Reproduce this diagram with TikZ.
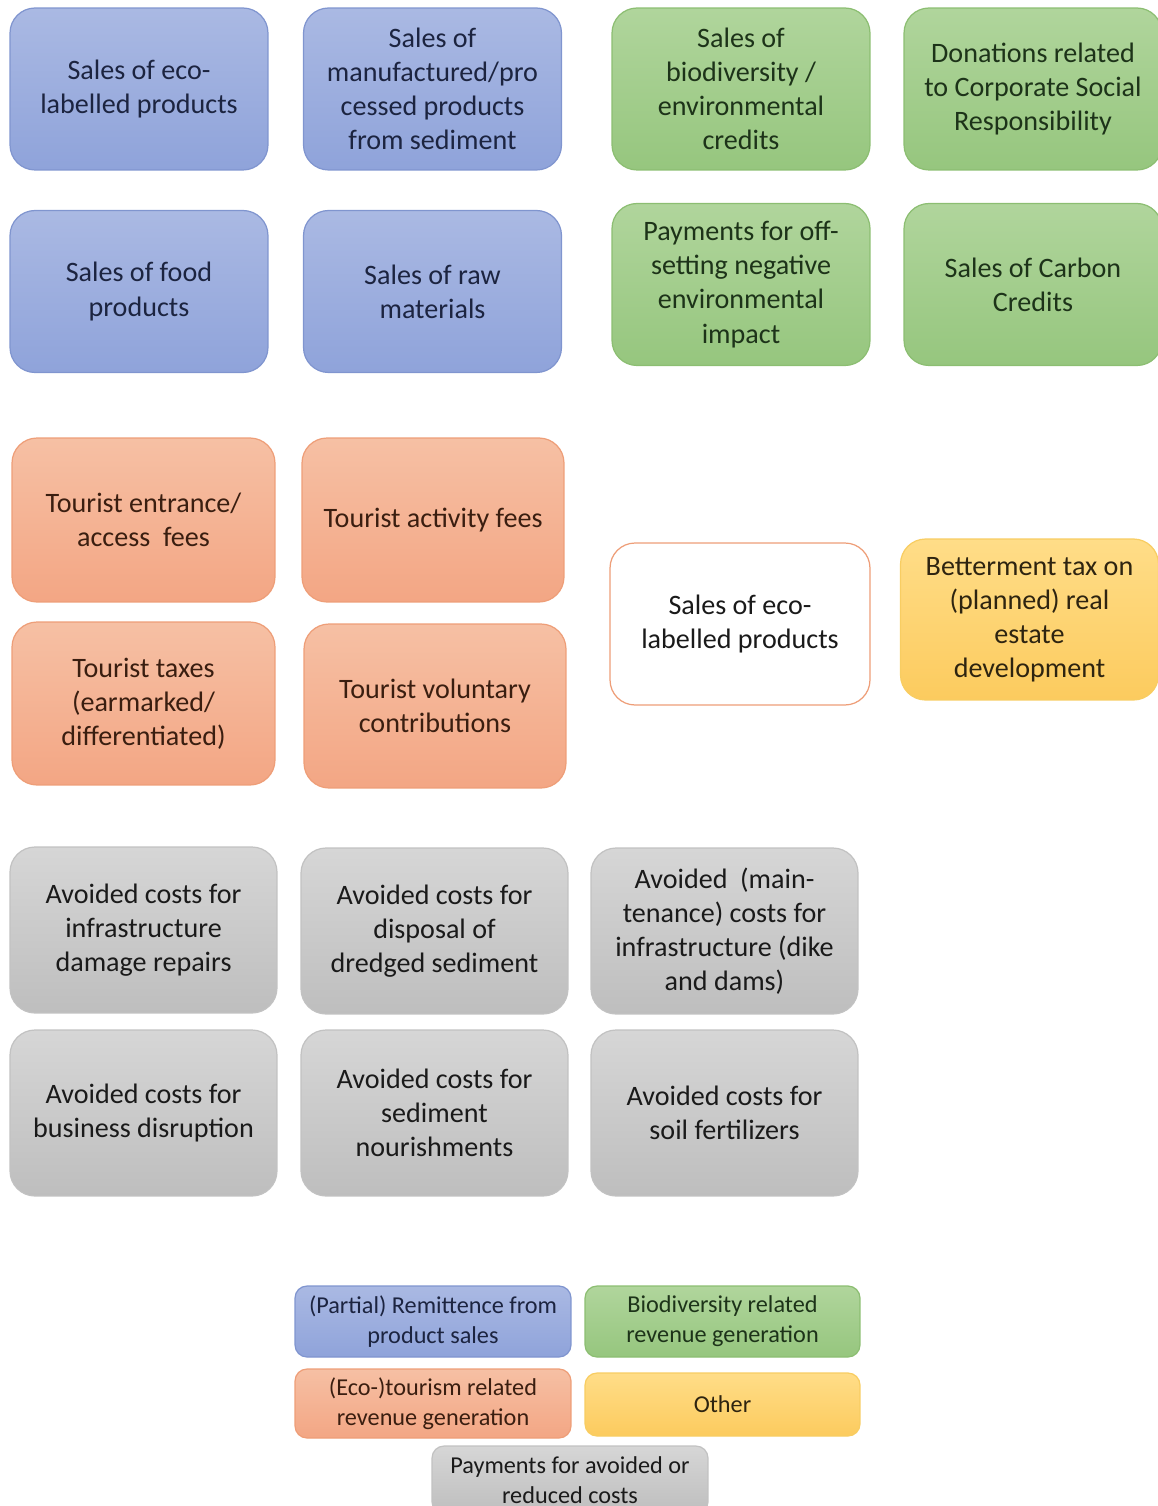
\documentclass[tikz,border=0pt]{standalone}
\usepackage{fontspec}
\setmainfont{Carlito}
\usepackage{xcolor}
\usepackage{tikz}
\usetikzlibrary{positioning}
\definecolor{bleuhaut}{HTML}{AAB9E3}
\definecolor{bleubas}{HTML}{8FA3DA}
\definecolor{bleubord}{HTML}{8095CF}
\definecolor{bleutexte}{HTML}{1C2440}
\definecolor{verthaut}{HTML}{B0D59C}
\definecolor{vertbas}{HTML}{96C67E}
\definecolor{vertbord}{HTML}{8CBE72}
\definecolor{verttexte}{HTML}{1D3319}
\definecolor{orangehaut}{HTML}{F6C0A4}
\definecolor{orangebas}{HTML}{F3A684}
\definecolor{orangebord}{HTML}{EE9E78}
\definecolor{orangetexte}{HTML}{3A1E10}
\definecolor{grishaut}{HTML}{D6D6D6}
\definecolor{grisbas}{HTML}{BEBEBE}
\definecolor{grisbord}{HTML}{C2C2C2}
\definecolor{gristexte}{HTML}{1A1A1A}
\definecolor{jaunehaut}{HTML}{FFDD88}
\definecolor{jaunebas}{HTML}{FCCB5E}
\definecolor{jaunebord}{HTML}{F8CD62}
\definecolor{jaunetexte}{HTML}{2E2410}
\tikzset{
  carte/.style={rectangle, rounded corners=5mm, line width=0.7pt,
    align=center, font=\fontsize{16}{19.4}\selectfont,
    minimum width=51.6mm, minimum height=32.4mm, inner sep=1mm},
  produit/.style={carte, draw=bleubord, top color=bleuhaut,
    bottom color=bleubas, text=bleutexte},
  biodiv/.style={carte, draw=vertbord, top color=verthaut,
    bottom color=vertbas, text=verttexte},
  tourisme/.style={carte, draw=orangebord, top color=orangehaut,
    bottom color=orangebas, text=orangetexte},
  autre/.style={carte, draw=jaunebord, top color=jaunehaut,
    bottom color=jaunebas, text=jaunetexte},
  vide/.style={carte, draw=orangebord, fill=white, text=gristexte},
  evite/.style={carte, draw=grisbord, top color=grishaut,
    bottom color=grisbas, text=gristexte, minimum width=53.4mm,
    minimum height=33.2mm},
  legende/.style={rounded corners=2.4mm,
    font=\fontsize{13.8}{17}\selectfont, minimum width=55.2mm,
    minimum height=14.2mm}
}

\begin{document}
\begin{tikzpicture}[x=0.02cm, y=-0.02cm]
    \useasboundingbox (0,0) rectangle (1158,1506);
    \clip (0,0) rectangle (1158,1506);

    % Ventes de produits
    \node[produit] (ecolab) at (139,89) {Sales of eco-\\labelled products};
    \node[produit] (manuf) at (432.5,89)
      {Sales of\\manufactured/pro\\cessed products\\from sediment};
    \node[produit] (food) at (139,291.5) {Sales of food\\products};
    \node[produit] (raw) at (432.5,291.5) {Sales of raw\\materials};

    % Biodiversite
    \node[biodiv] (credits) at (741,89)
      {Sales of\\biodiversity /\\environmental\\credits};
    \node[biodiv] (csr) at (1033,89)
      {Donations related\\to Corporate Social\\Responsibility};
    \node[biodiv] (offset) at (741,284.5)
      {Payments for off-\\setting negative\\environmental\\impact};
    \node[biodiv] (carbon) at (1033,284.5) {Sales of Carbon\\Credits};

    % Tourisme
    \node[tourisme, minimum width=52.6mm, minimum height=32.8mm] (entree)
      at (143.5,520) {Tourist entrance/\\access\ \ fees};
    \node[tourisme, minimum width=52.4mm, minimum height=32.8mm] (activ)
      at (433,520) {Tourist activity fees};
    \node[tourisme, minimum width=52.6mm, minimum height=32.6mm] (taxes)
      at (143.5,703.5) {Tourist taxes\\(earmarked/\\differentiated)};
    \node[tourisme, minimum width=52.4mm, minimum height=32.8mm] (volont)
      at (435,706) {Tourist voluntary\\contributions};

    % Autres
    \node[vide, minimum width=52mm] (ecolabbis) at (740,624)
      {Sales of eco-\\labelled products};
    \node[autre, minimum width=51.6mm, minimum height=32.2mm] (betterment)
      at (1029.5,619.5)
      {Betterment tax on\\(planned) real\\estate\\development};

    % Couts evites
    \node[evite] (infra) at (143.5,930)
      {Avoided costs for\\infrastructure\\damage repairs};
    \node[evite] (dredge) at (434.5,931)
      {Avoided costs for\\disposal of\\dredged sediment};
    \node[evite] (dikes) at (724.5,931)
      {Avoided\ \ (main-\\tenance) costs for\\infrastructure (dike\\and dams)};
    \node[evite] (business) at (143.5,1113)
      {Avoided costs for\\business disruption};
    \node[evite] (nourish) at (434.5,1113)
      {Avoided costs for\\sediment\\nourishments};
    \node[evite] (fertil) at (724.5,1113)
      {Avoided costs for\\soil fertilizers};

    % Legende
    \node[produit, legende] (lprod) at (433,1321.5)
      {(Partial) Remittence from\\product sales};
    \node[biodiv, legende, minimum width=55mm] (lbio) at (722.5,1321.5)
      {Biodiversity related\\revenue generation};
    \node[tourisme, legende, minimum height=13.8mm] (ltour) at (433,1403.5)
      {(Eco-)tourism related\\revenue generation};
    \node[autre, legende, minimum width=55mm, minimum height=12.6mm]
      (lautre) at (722.5,1404.5) {Other};
    \node[evite, legende, minimum height=13.6mm] (levite) at (570,1480)
      {Payments for avoided or\\reduced costs};
\end{tikzpicture}
\end{document}
